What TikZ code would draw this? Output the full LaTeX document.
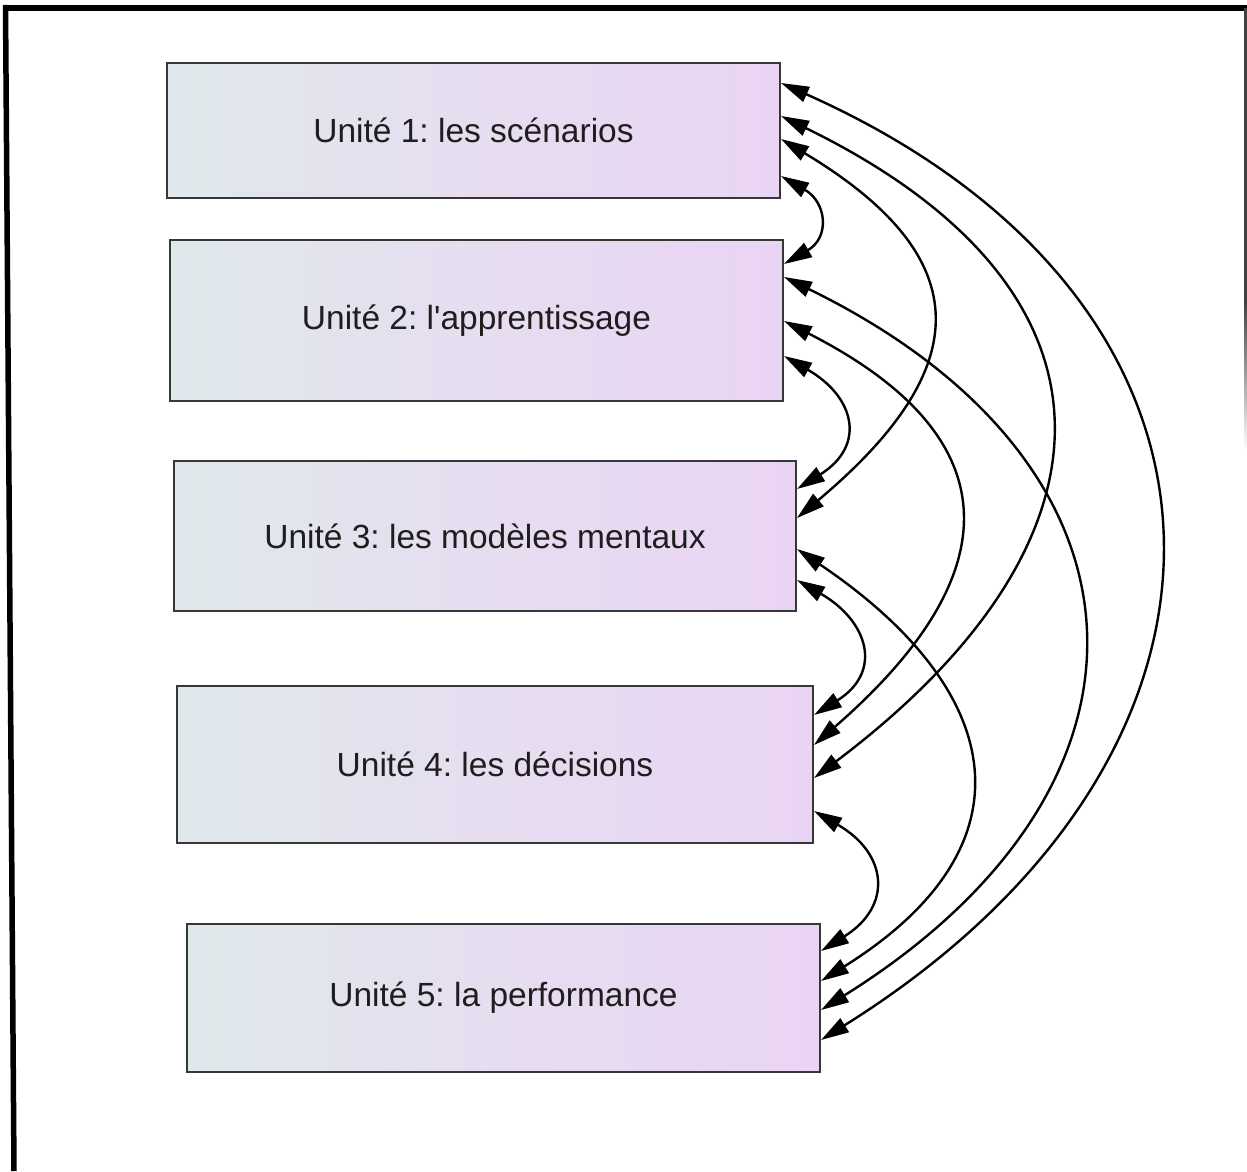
\documentclass[tikz,border=0pt]{standalone}
\usepackage{fontspec}
\setmainfont{Liberation Sans}
\usetikzlibrary{arrows.meta}
\frenchspacing

\definecolor{unitleft}{RGB}{223,233,236}
\definecolor{unitmid}{RGB}{231,221,240}
\definecolor{unitright}{RGB}{234,212,244}
\definecolor{unitline}{RGB}{55,55,55}
\definecolor{unittext}{RGB}{30,30,30}

\tikzset{
  unitbox/.style={draw=unitline, line width=2pt, left color=unitleft,
    right color=unitright, middle color=unitmid, inner sep=0pt,
    text=unittext, font=\fontsize{33.5pt}{40pt}\selectfont},
  link/.style={line width=2.4pt, >={Triangle[length=28pt,width=16pt]}, <->},
}

\begin{document}
\begin{tikzpicture}[x=1pt,y=1pt]
        \useasboundingbox (0,0) rectangle (1247,1171);

        % frame
        \draw[line width=6pt] (3,1163) -- (1247,1163);
        \draw[line width=5.5pt] (5.5,1166) -- (14,0);
        \fill[black!75] (1244,871) rectangle (1246.5,1163);
        \shade[top color=black!75, bottom color=white] (1244,721) rectangle (1246.5,871);

        \node[unitbox, minimum width=613pt, minimum height=135pt] (u1) at (473.5,1040.5) {Unité 1: les scénarios};
        \node[unitbox, minimum width=613pt, minimum height=161pt] (u2) at (476.5,850.5) {Unité 2: l\textquotesingle apprentissage};
        \node[unitbox, minimum width=622pt, minimum height=150pt] (u3) at (485,635) {Unité 3: les modèles mentaux};
        \node[unitbox, minimum width=636pt, minimum height=157pt] (u4) at (495,406.5) {Unité 4: les décisions};
        \node[unitbox, minimum width=633pt, minimum height=148pt] (u5) at (503.5,173) {Unité 5: la performance};

        % neighbours
        \draw[link] ([yshift=-114pt]u1.north east) to[out=-30, in=30, distance=53pt] ([yshift=-25pt]u2.north east);
        \draw[link] ([yshift=-117pt]u2.north east) to[out=-30, in=32, distance=82pt] ([yshift=-29pt]u3.north east);
        \draw[link] ([yshift=-120pt]u3.north east) to[out=-30, in=32, distance=82pt] ([yshift=-30pt]u4.north east);
        \draw[link] ([yshift=-126pt]u4.north east) to[out=-30, in=32, distance=85pt] ([yshift=-28pt]u5.north east);

        % longer links
        \draw[link] ([yshift=-77pt]u1.north east) to[out=-31, in=40, distance=232pt] ([yshift=-58pt]u3.north east);
        \draw[link] ([yshift=-82pt]u2.north east) to[out=-27, in=41, distance=258pt] ([yshift=-60pt]u4.north east);
        \draw[link] ([yshift=-89pt]u3.north east) to[out=-34, in=32, distance=254pt] ([yshift=-58pt]u5.north east);
        \draw[link] ([yshift=-54pt]u1.north east) to[out=-26, in=37, distance=395pt] ([yshift=-93pt]u4.north east);
        \draw[link] ([yshift=-38pt]u2.north east) to[out=-26, in=32, distance=425pt] ([yshift=-87pt]u5.north east);
        \draw[link] ([yshift=-21pt]u1.north east) to[out=-24, in=32, distance=540pt] ([yshift=-117pt]u5.north east);
    \end{tikzpicture}
\end{document}
